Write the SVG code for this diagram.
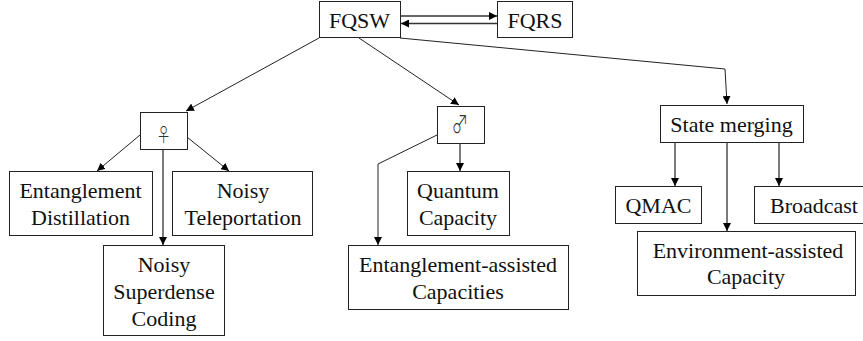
<svg xmlns="http://www.w3.org/2000/svg" width="863" height="341" viewBox="0 0 863 341">
<style>
rect{fill:#fff;stroke:#222;stroke-width:1}
text{font-family:"Liberation Serif","Times New Roman",serif;font-size:22px;fill:#111;text-anchor:middle}
.s{font-family:"Noto Sans CJK JP","DejaVu Sans",sans-serif;font-size:24px;font-weight:300;fill:#333}
.c path{fill:none;stroke:#222;stroke-width:1;marker-end:url(#a)}
.c .t{stroke-width:1.3;stroke:#333}
</style>
<defs><marker id="a" markerUnits="userSpaceOnUse" markerWidth="9" markerHeight="8" refX="8" refY="4" orient="auto"><path d="M0 0L8 4L0 8z" fill="#000" stroke="none"/></marker></defs>
<g id="fqsw"><rect x="319.500" y="1.500" width="81" height="36"/><text x="359.500" y="28">FQSW</text></g>
<g id="fqrs"><rect x="497.500" y="1.500" width="75" height="36"/><text x="535" y="28">FQRS</text></g>
<g id="female"><rect x="140.500" y="112.500" width="47" height="37"/><text class="s" style="font-size:19px" transform="translate(163.500 142) scale(.8 1)">♀</text></g>
<g id="male"><rect x="437.500" y="106.500" width="47" height="37"/><text class="s" transform="translate(460 133) scale(.7 1)">♂</text></g>
<g id="distill"><rect x="9.500" y="171.500" width="143" height="64"/><text x="80.500" y="198">Entanglement</text><text x="80.500" y="225">Distillation</text></g>
<g id="telep"><rect x="172.500" y="171.500" width="140" height="64"/><text x="243" y="198">Noisy</text><text x="243" y="225">Teleportation</text></g>
<g id="superdense"><rect x="103.500" y="245.500" width="121" height="90"/><text x="164" y="272">Noisy</text><text x="164" y="299">Superdense</text><text x="164" y="326">Coding</text></g>
<g id="quantum"><rect x="407.500" y="171.500" width="102" height="64"/><text x="458" y="198">Quantum</text><text x="458" y="225">Capacity</text></g>
<g id="eac"><rect x="348.500" y="245.500" width="220" height="64"/><text x="458" y="272">Entanglement-assisted</text><text x="458" y="299">Capacities</text></g>
<g id="merging"><rect x="660.500" y="105.500" width="143" height="37"/><text x="731.500" y="131.500">State merging</text></g>
<g id="qmac"><rect x="615.500" y="186.500" width="86" height="37"/><text x="658.500" y="213">QMAC</text></g>
<g id="broadcast"><rect x="754.500" y="186.500" width="110" height="37"/><text x="814" y="213">Broadcast</text></g>
<g id="env"><rect x="637.500" y="231.500" width="218" height="64"/><text x="748" y="258">Environment-assisted</text><text x="746" y="284">Capacity</text></g>
<g id="connectors" class="c">
<path class="t" d="M400 16H497"/><path class="t" d="M497 23.500H401"/>
<path d="M319 38L186 111"/><path d="M359 38L459 105"/>
<path d="M400 38L725 69L727 104"/>
<path d="M140 135L97 171"/><path d="M187 137L229 171"/><path class="t" d="M163 149V245"/>
<path class="t" d="M460 143V171"/><path d="M437 135L378 164V245"/>
<path class="t" d="M675 142V186"/><path class="t" d="M727 142V231"/><path class="t" d="M779 142V186"/>
</g>
</svg>
